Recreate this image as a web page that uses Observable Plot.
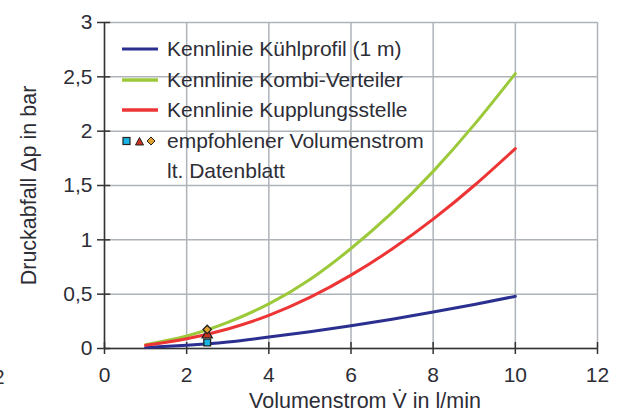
<!DOCTYPE html>
<html>
<head>
<meta charset="utf-8">
<script src="https://cdn.jsdelivr.net/npm/d3@7"></script>
<script src="https://cdn.jsdelivr.net/npm/@observablehq/plot@0.6"></script>
<style>
  body { margin: 0; background: #fff; }
  #wrap { position: relative; width: 628px; height: 419px; overflow: hidden; font-family: "Liberation Sans", Arial, sans-serif; }
  #legend { position: absolute; left: 120px; top: 34px; font-size: 21px; color: #2d2d36; }
  #legend .row { display: flex; align-items: center; height: 30.5px; }
  #legend .sw { width: 40px; margin-right: 7px; display: flex; align-items: center; }
  #stray { position: absolute; left: -7px; top: 365px; font-size: 21px; color: #333; }
</style>
</head>
<body>
<div id="wrap">
  <div id="chart"></div>
  <div id="legend"></div>
  <div id="stray">2</div>
</div>
<script>
const flow = [1, 2, 3, 4, 5, 6, 7, 8, 9, 10];
const kuehlprofil = [0.01, 0.03, 0.06, 0.105, 0.155, 0.21, 0.27, 0.335, 0.405, 0.48];
const kombiVerteiler = [0.035, 0.115, 0.24, 0.41, 0.635, 0.92, 1.25, 1.63, 2.06, 2.53];
const kupplung = [0.03, 0.09, 0.18, 0.305, 0.47, 0.675, 0.915, 1.19, 1.50, 1.84];

const recFlow = [2.5, 2.5, 2.5];
const recDrop = [0.055, 0.125, 0.175];
const recSymbols = ["square", "triangle", "diamond2"];
const recFill = ["#19b4e6", "#c8321e", "#e0a030"];

const seriesNames = ["Kennlinie Kühlprofil (1 m)", "Kennlinie Kombi-Verteiler", "Kennlinie Kupplungsstelle"];
const seriesColors = ["#2b2f8f", "#9bc93a", "#ee3535"];
const xTicks = [0, 2, 4, 6, 8, 10, 12];
const yTicks = [0, 0.5, 1, 1.5, 2, 2.5, 3];

const rows = [];
[kuehlprofil, kombiVerteiler, kupplung].forEach((arr, i) => {
  arr.forEach((v, j) => rows.push({series: seriesNames[i], x: flow[j], y: v}));
});
const recs = recFlow.map((x, i) => ({x, y: recDrop[i], symbol: recSymbols[i], fill: recFill[i]}));

const fmt = d => String(d).replace(".", ",");
const tickColor = "#2d2d36";

const plot = Plot.plot({
  width: 628,
  height: 419,
  marginLeft: 104,
  marginRight: 31,
  marginTop: 22,
  marginBottom: 71,
  style: {fontFamily: "Liberation Sans, Arial, sans-serif", fontSize: "21px", background: "white", overflow: "visible"},
  x: {domain: [0, 12]},
  y: {domain: [0, 3]},
  color: {domain: seriesNames, range: seriesColors},
  marks: [
    Plot.gridX(xTicks, {stroke: "#aeb3ba", strokeOpacity: 1, strokeWidth: 1.5}),
    Plot.gridY(yTicks, {stroke: "#aeb3ba", strokeOpacity: 1, strokeWidth: 1.5}),
    Plot.ruleX([0], {stroke: "#333", strokeWidth: 1.5}),
    Plot.ruleY([0], {stroke: "#333", strokeWidth: 1.5}),
    Plot.ruleY(yTicks, {y: d => d, x1: -0.17, x2: 0.15, stroke: "#333", strokeWidth: 1.5}),
    Plot.ruleX(xTicks, {x: d => d, y1: -0.055, y2: 0.055, stroke: "#333", strokeWidth: 1.5}),
    Plot.axisX(xTicks, {tickSize: 0, tickPadding: 19, tickFormat: fmt, fill: tickColor, fontSize: 21, label: null}),
    Plot.axisY(yTicks, {tickSize: 0, tickPadding: 12, tickFormat: fmt, fill: tickColor, fontSize: 21, label: null}),
    Plot.line(rows, {x: "x", y: "y", z: "series", stroke: "series", strokeWidth: 3, curve: "natural"}),
    Plot.dot(recs, {x: "x", y: "y", symbol: "symbol", fill: "fill", stroke: "#222", strokeWidth: 1.3, r: 3.8}),
    Plot.text(["Volumenstrom V\u0307 in l/min"], {frameAnchor: "bottom", dx: 14, dy: 59, fontSize: 21.5, fill: tickColor}),
    Plot.text(["Druckabfall \u0394p in bar"], {frameAnchor: "left", textAnchor: "middle", rotate: -90, dx: -75, dy: 0, fontSize: 21.5, fill: tickColor})
  ]
});
document.getElementById("chart").appendChild(plot);

// Legend overlay
const legend = document.getElementById("legend");
seriesNames.forEach((name, i) => {
  const row = document.createElement("div");
  row.className = "row";
  row.innerHTML = `<span class="sw"><svg width="40" height="6"><line x1="2" x2="38" y1="3" y2="3" stroke="${seriesColors[i]}" stroke-width="${i === 0 ? 3 : 3.5}"/></svg></span><span>${name}</span>`;
  legend.appendChild(row);
});
const recRow = document.createElement("div");
recRow.className = "row";
recRow.innerHTML = `<span class="sw"><svg width="40" height="12">
  <rect x="3" y="2.5" width="7" height="7" fill="${recFill[0]}" stroke="#222" stroke-width="1.2"/>
  <path d="M15.5,10 L19.5,2.5 L23.5,10 Z" fill="${recFill[1]}" stroke="#222" stroke-width="1"/>
  <path d="M31,2 L35,6 L31,10 L27,6 Z" fill="${recFill[2]}" stroke="#222" stroke-width="1"/>
</svg></span><span>empfohlener Volumenstrom</span>`;
legend.appendChild(recRow);
const recRow2 = document.createElement("div");
recRow2.className = "row";
recRow2.innerHTML = `<span class="sw"></span><span>lt. Datenblatt</span>`;
legend.appendChild(recRow2);
</script>
</body>
</html>
